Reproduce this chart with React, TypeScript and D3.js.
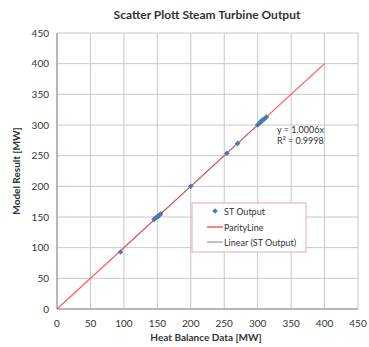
import React from 'react';
import * as d3 from 'd3';

// Heat balance data vs. model result (MW)
const heatBalance = [95, 145, 147, 149, 151, 153, 155, 200, 254, 270, 300, 302, 304, 306, 307, 309, 311, 313];
const modelResult = [93, 146, 148, 150, 151, 153, 155, 200, 254, 270, 300, 302, 305, 306, 308, 309, 311, 313];
const xTicks = [0, 50, 100, 150, 200, 250, 300, 350, 400, 450];
const yTicks = [0, 50, 100, 150, 200, 250, 300, 350, 400, 450];
const parityLine = [0, 400];
const slope = 1.0006;

const App = () => {
  const width = 369;
  const height = 347;
  const margin = { top: 33, right: 11, bottom: 38, left: 57 };
  const font = 'Lato, "Open Sans", sans-serif';

  const x = d3.scaleLinear().domain([0, 450]).range([margin.left, width - margin.right]);
  const y = d3.scaleLinear().domain([0, 450]).range([height - margin.bottom, margin.top]);

  const points = heatBalance.map((h, i) => ({ h, m: modelResult[i] }));
  const line = d3.line<number[]>().x(d => x(d[0])).y(d => y(d[1]));
  const xMin = d3.min(heatBalance) as number;
  const xMax = d3.max(heatBalance) as number;
  // square rotated 45deg gives an even diamond
  const diamond = d3.symbol().type(d3.symbolSquare).size(16)() as string;

  const legendX = 192;
  const legendY = 203;

  return (
    <svg width={width} height={height} style={{ position: 'absolute', left: 0, top: 0, background: '#fff' }}>
      {/* grid */}
      {xTicks.map(t => (
        <line key={'gx' + t} x1={x(t)} x2={x(t)} y1={y(0)} y2={y(450)} stroke="#c8c8c8" strokeWidth={1} />
      ))}
      {yTicks.map(t => (
        <line key={'gy' + t} x1={x(0)} x2={x(450)} y1={y(t)} y2={y(t)} stroke="#c8c8c8" strokeWidth={1} />
      ))}
      <line x1={x(0)} x2={x(0)} y1={y(0)} y2={y(450)} stroke="#8c8c8c" />
      <line x1={x(0)} x2={x(450)} y1={y(0)} y2={y(0)} stroke="#8c8c8c" />

      {/* tick labels */}
      {xTicks.map(t => (
        <text key={'tx' + t} x={x(t)} y={y(0) + 18} textAnchor="middle" fontSize={10} fontFamily={font} fill="#333">
          {t}
        </text>
      ))}
      {yTicks.map(t => (
        <text key={'ty' + t} x={x(0) - 8} y={y(t) + 3.5} textAnchor="end" fontSize={10} fontFamily={font} fill="#333">
          {t}
        </text>
      ))}

      {/* parity line */}
      <path d={line(parityLine.map(v => [v, v])) as string} stroke="#ff5a5a" strokeWidth={1.2} fill="none" />

      {/* data */}
      {points.map((p, i) => (
        <path key={i} d={diamond} transform={`translate(${x(p.h)},${y(p.m)}) rotate(45)`} fill="#4a7ebb" />
      ))}

      {/* linear trendline */}
      <path
        d={line([[xMin, xMin * slope], [xMax, xMax * slope]]) as string}
        stroke="#7a5a5a"
        strokeWidth={0.8}
        fill="none"
        opacity={0.7}
      />

      {/* trendline label */}
      <text x={277} y={133} fontSize={9} fontFamily={font} fill="#333">y = 1.0006x</text>
      <text x={277} y={144} fontSize={9} fontFamily={font} fill="#333">R² = 0.9998</text>

      {/* legend */}
      <rect x={legendX} y={legendY} width={114} height={49} fill="#fff" stroke="#e8a8a8" strokeWidth={1} />
      <path d={diamond} transform={`translate(${legendX + 23},${legendY + 8}) rotate(45)`} fill="#4a7ebb" />
      <text x={legendX + 32} y={legendY + 11.5} fontSize={9} fontFamily={font} fill="#333">ST Output</text>
      <line x1={legendX + 15} x2={legendX + 31} y1={legendY + 24} y2={legendY + 24} stroke="#ff5a5a" strokeWidth={1.5} />
      <text x={legendX + 32} y={legendY + 27.5} fontSize={9} fontFamily={font} fill="#333">ParityLine</text>
      <line x1={legendX + 15} x2={legendX + 31} y1={legendY + 39} y2={legendY + 39} stroke="#888" strokeWidth={1} />
      <text x={legendX + 32} y={legendY + 42.5} fontSize={9} fontFamily={font} fill="#333">Linear (ST Output)</text>

      {/* titles */}
      <text x={207} y={19} textAnchor="middle" fontSize={12} fontWeight="bold" fontFamily={font} fill="#333">
        Scatter Plott Steam Turbine Output
      </text>
      <text x={206} y={341} textAnchor="middle" fontSize={10} fontWeight="bold" fontFamily={font} fill="#333">
        Heat Balance Data [MW]
      </text>
      <text
        transform={`translate(20,${(y(0) + y(450)) / 2}) rotate(-90)`}
        textAnchor="middle"
        fontSize={10}
        fontWeight="bold"
        fontFamily={font}
        fill="#333"
      >
        Model Result [MW]
      </text>
    </svg>
  );
};

export default App;
